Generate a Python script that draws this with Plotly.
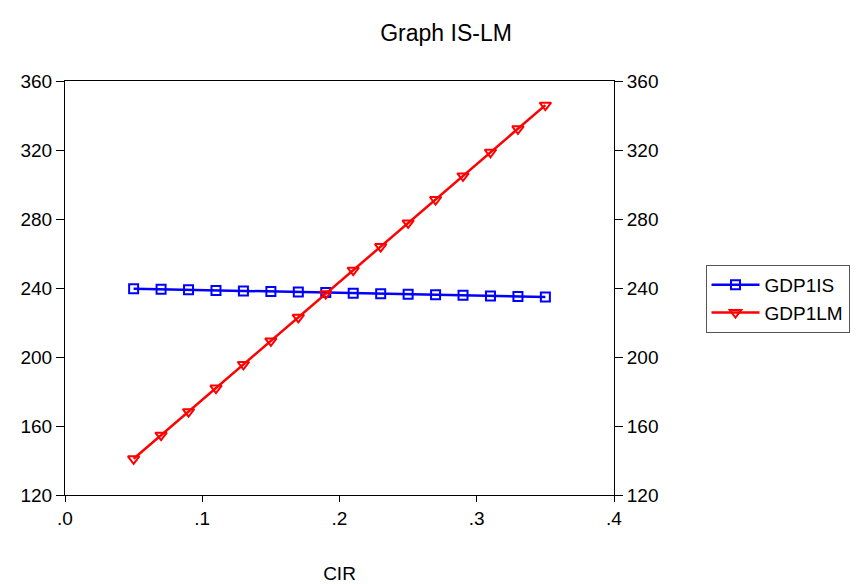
import plotly.graph_objects as go

cir = [0.05, 0.07, 0.09, 0.11, 0.13, 0.15, 0.17, 0.19, 0.21, 0.23, 0.25, 0.27, 0.29, 0.31, 0.33, 0.35]
gdp1is = [239.6, 239.3, 239.0, 238.6, 238.3, 238.0, 237.7, 237.4, 237.0, 236.7, 236.4, 236.1, 235.8, 235.4, 235.1, 234.8]
gdp1lm = [141.0, 154.7, 168.3, 182.0, 195.7, 209.3, 223.0, 236.7, 250.3, 264.0, 277.7, 291.3, 305.0, 318.7, 332.3, 346.0]

x_ticks = [0.0, 0.1, 0.2, 0.3, 0.4]
x_ticklabels = [".0", ".1", ".2", ".3", ".4"]
y_ticks = [120, 160, 200, 240, 280, 320, 360]

font = "Liberation Sans, Arial, sans-serif"

fig = go.Figure()
fig.add_trace(go.Scatter(
    x=cir, y=gdp1is, name="GDP1IS", mode="lines+markers",
    line=dict(color="#0000FF", width=2.5),
    marker=dict(symbol="square-open", size=9, color="#0000FF", line=dict(width=2)),
))
fig.add_trace(go.Scatter(
    x=cir, y=gdp1lm, name="GDP1LM", mode="lines+markers",
    line=dict(color="#FF0000", width=2.5),
    marker=dict(symbol="triangle-down-open", size=10, color="#FF0000", line=dict(width=2)),
))
# invisible trace to carry the right-hand axis
fig.add_trace(go.Scatter(
    x=cir, y=gdp1is, yaxis="y2", mode="lines", line=dict(width=0),
    opacity=0, showlegend=False, hoverinfo="skip",
))

fig.update_layout(
    width=862, height=584,
    paper_bgcolor="white", plot_bgcolor="white",
    margin=dict(l=65, r=245, t=81, b=89),
    font=dict(family=font, size=19, color="black"),
    title=dict(text="Graph IS-LM", x=446 / 862, xanchor="center", y=1 - 33 / 584, yanchor="middle",
               font=dict(size=23, family=font, color="black")),
    xaxis=dict(range=[0, 0.4], tickvals=x_ticks, ticktext=x_ticklabels,
               showline=True, linecolor="black", linewidth=1, mirror=True,
               ticks="outside", ticklen=6, tickcolor="black", showgrid=False, zeroline=False,
               tickfont=dict(size=19), automargin=False,
               title=dict(text="CIR", standoff=40, font=dict(size=19))),
    yaxis=dict(range=[120, 360], tickvals=y_ticks, showline=True, linecolor="black", linewidth=1,
               ticks="outside", ticklen=8, tickcolor="black", showgrid=False, zeroline=False,
               tickfont=dict(size=19), automargin=False),
    yaxis2=dict(range=[120, 360], tickvals=y_ticks, overlaying="y", side="right",
                showline=True, linecolor="black", linewidth=1,
                ticks="outside", ticklen=8, tickcolor="black", showgrid=False, zeroline=False,
                tickfont=dict(size=19), automargin=False),
    legend=dict(x=(709 - 65) / 552, y=(495 - 265) / 414, xanchor="left", yanchor="top",
                bordercolor="#555555", borderwidth=1, bgcolor="white",
                font=dict(size=19, family=font), tracegroupgap=0, itemwidth=48),
    showlegend=True,
)

fig.write_html("out.html", config={"displayModeBar": False},
               post_script="document.body.style.margin='0';")
